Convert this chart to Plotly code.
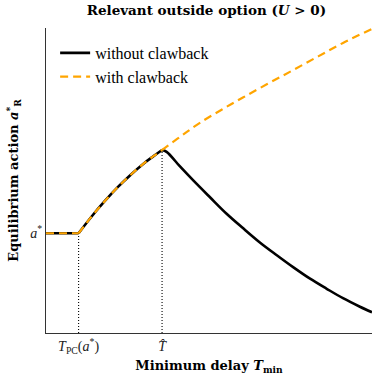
import plotly.graph_objects as go

# Key delays and the pooling action level
T_PC = 1.0          # T_PC(a*)
T_HAT = 3.56        # T-hat
A_STAR = 0.327      # a*
A_PEAK = 0.60       # action at T-hat

# Flat part and rising part shared by both regimes
flat_t = [0.0, 0.5, T_PC]
flat_a = [A_STAR, A_STAR, A_STAR]
rise_t = [T_PC, 1.4, 1.8, 2.2, 2.6, 3.0, 3.3, T_HAT]
rise_a = [A_STAR, 0.382, 0.432, 0.478, 0.519, 0.556, 0.580, A_PEAK]

# Without clawback: decline after T-hat
decay_t = [T_HAT, 3.70, 4.11, 4.51, 5.03, 5.54, 6.04, 6.56, 7.08, 7.58, 8.10, 8.61, 9.11, 9.63, 10.0]
decay_a = [A_PEAK, 0.594, 0.546, 0.501, 0.445, 0.391, 0.344, 0.297, 0.255, 0.216, 0.178, 0.145, 0.114, 0.086, 0.068]

# With clawback: keeps increasing after T-hat
ext_t = [T_HAT, 3.71, 4.2, 4.72, 5.4, 6.04, 6.8, 7.58, 8.35, 9.11, 10.0]
ext_a = [A_PEAK, 0.612, 0.650, 0.689, 0.733, 0.772, 0.817, 0.862, 0.907, 0.951, 0.997]

x_ticks = [T_PC, T_HAT]
x_ticktext = ["<i>T</i><sub>PC</sub>(<i>a</i><sup>*</sup>)", "<i>T̂</i>"]
y_ticks = [A_STAR]
y_ticktext = ["<i>a</i><sup>*</sup>"]

FONT = "DejaVu Serif"
TEXT_FONT = "Liberation Serif"
ORANGE = "#FFA500"
BLACK_LINE = dict(color="black", width=2.6)
ORANGE_LINE = dict(color=ORANGE, width=2.2, dash="8px,5px")

fig = go.Figure()

# Dotted guides down to the horizontal axis
for t, a in [(T_PC, A_STAR), (T_HAT, A_PEAK)]:
    fig.add_trace(go.Scatter(
        x=[t, t], y=[0, a], mode="lines",
        line=dict(color="black", width=1.1, dash="1px,2px"),
        showlegend=False, hoverinfo="skip",
    ))

def add_piece(x, y, line, name, group, show, smooth):
    style = dict(line)
    if smooth:
        style.update(shape="spline", smoothing=1.0)
    fig.add_trace(go.Scatter(
        x=x, y=y, mode="lines", name=name, legendgroup=group,
        showlegend=show, line=style, hoverinfo="skip",
    ))

# Without clawback (solid black)
add_piece(flat_t, flat_a, BLACK_LINE, "without clawback", "no", True, False)
add_piece(rise_t, rise_a, BLACK_LINE, "without clawback", "no", False, True)
add_piece(decay_t, decay_a, BLACK_LINE, "without clawback", "no", False, True)

# With clawback (dashed orange, drawn on top)
add_piece(flat_t, flat_a, ORANGE_LINE, "with clawback", "yes", True, False)
add_piece(rise_t, rise_a, ORANGE_LINE, "with clawback", "yes", False, True)
add_piece(ext_t, ext_a, ORANGE_LINE, "with clawback", "yes", False, True)

fig.update_layout(
    width=372, height=376,
    margin=dict(l=46, r=0, t=28, b=43),
    paper_bgcolor="white", plot_bgcolor="white",
    font=dict(family=FONT, size=12, color="black"),
    title=dict(
        text="<b>Relevant outside option (<i>U</i> > 0)</b>",
        x=0.555, xanchor="center", y=0.972, yanchor="middle",
        font=dict(family=FONT, size=13.5, color="black"),
    ),
    legend=dict(
        x=0.028, y=0.974, xanchor="left", yanchor="top",
        bgcolor="rgba(0,0,0,0)", borderwidth=0,
        font=dict(family=TEXT_FONT, size=16, color="black"),
        tracegroupgap=0, itemwidth=30,
    ),
    xaxis=dict(
        range=[0, 10], showgrid=False, zeroline=False,
        showline=True, linecolor="#333333", linewidth=1,
        tickvals=x_ticks, ticktext=x_ticktext, ticks="",
        tickfont=dict(family=TEXT_FONT, size=14, color="#222222"),
        title=dict(text="<b>Minimum delay <i>T</i><sub>min</sub></b>",
                   font=dict(family=FONT, size=13, color="black"), standoff=6),
    ),
    yaxis=dict(
        range=[0, 1.0], showgrid=False, zeroline=False,
        showline=True, linecolor="#333333", linewidth=1,
        tickvals=y_ticks, ticktext=y_ticktext, ticks="",
        tickfont=dict(family=TEXT_FONT, size=14, color="#222222"),
        title=dict(text="<b>Equilibrium action <i>a</i><sup>*</sup><sub>R</sub></b>",
                   font=dict(family=FONT, size=13, color="black"), standoff=8),
    ),
)

fig.write_html("out.html")
